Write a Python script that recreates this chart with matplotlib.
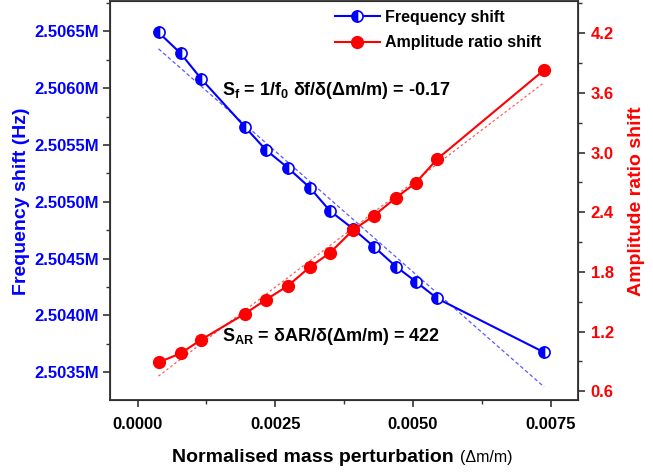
import numpy as np
import matplotlib
matplotlib.use("Agg")
import matplotlib.pyplot as plt
from matplotlib.ticker import MultipleLocator, FuncFormatter

plt.rcParams['font.family'] = ['Liberation Sans', 'DejaVu Sans']
plt.rcParams['font.weight'] = 'bold'
plt.rcParams['axes.labelweight'] = 'bold'
plt.rcParams['mathtext.default'] = 'regular'

# normalised mass perturbation (dm/m)
mass_pert = [0.00038, 0.00078, 0.00116, 0.00195, 0.00233, 0.00273, 0.00313,
             0.00349, 0.00391, 0.00429, 0.00469, 0.00505, 0.00544, 0.00738]
# resonance frequency (Hz)
freq = [2506491, 2506307, 2506079, 2505658, 2505456, 2505298, 2505123,
        2504921, 2504763, 2504605, 2504430, 2504298, 2504149, 2503675]
# amplitude ratio
amp_ratio = [0.89, 0.98, 1.12, 1.38, 1.52, 1.66, 1.85,
             1.99, 2.22, 2.365, 2.545, 2.695, 2.935, 3.83]

BLUE = '#0000ff'
RED = '#ff0000'

x = np.array(mass_pert)
f = np.array(freq)
a = np.array(amp_ratio)

fig = plt.figure(figsize=(6.53, 4.73), dpi=100)
ax = fig.add_axes([0.1685, 0.154, 0.717, 0.843])
ax2 = ax.twinx()

# linear fits
pf = np.polyfit(x, f, 1)
pa = np.polyfit(x, a, 1)
ax.plot(x[[0, -1]], np.polyval(pf, x[[0, -1]]), ls=(0, (3, 2)), lw=0.9,
        color='#5a5aff', zorder=1)
ax2.plot(x[[0, -1]], np.polyval(pa, x[[0, -1]]), ls=(0, (2, 2)), lw=0.9,
         color='#ff5a5a', zorder=1)

l1, = ax.plot(x, f, '-o', color=BLUE, lw=1.5, ms=8, mec=BLUE, mew=1.2,
              fillstyle='left', mfc=BLUE, markerfacecoloralt='white',
              label='Frequency shift', zorder=3)
l2, = ax2.plot(x, a, '-o', color=RED, lw=1.5, ms=8.5, mfc=RED, mec=RED,
               label='Amplitude ratio shift', zorder=3)

ax.set_xlim(-0.0005, 0.0080)
ax.set_ylim(2503254, 2506763)
ax2.set_ylim(0.51, 4.52)

ax.xaxis.set_major_locator(MultipleLocator(0.0025))
ax.xaxis.set_minor_locator(MultipleLocator(0.00125))
ax.xaxis.set_major_formatter(FuncFormatter(lambda v, p: f"{v:.4f}"))
ax.yaxis.set_major_locator(MultipleLocator(500))
ax.yaxis.set_minor_locator(MultipleLocator(250))
ax.yaxis.set_major_formatter(FuncFormatter(lambda v, p: f"{v/1e6:.4f}M"))
ax2.yaxis.set_major_locator(MultipleLocator(0.6))
ax2.yaxis.set_minor_locator(MultipleLocator(0.3))
ax2.yaxis.set_major_formatter(FuncFormatter(lambda v, p: f"{v:.1f}"))

for s in ax2.spines.values():
    s.set_linewidth(1.3)
    s.set_color('#333333')
ax.tick_params(axis='both', which='major', length=5, width=1.2, labelsize=12,
               color='#333333')
ax.tick_params(axis='both', which='minor', length=3, width=1.0, color='#333333')
ax.tick_params(axis='y', labelcolor=BLUE, pad=3)
ax.tick_params(axis='x', pad=7)
ax2.tick_params(axis='y', which='major', length=5, width=1.2, labelsize=12,
                labelcolor=RED, color='#333333', pad=4)
ax2.tick_params(axis='y', which='minor', length=3, width=1.0, color='#333333')

ax.set_ylabel('Frequency shift (Hz)', color=BLUE, fontsize=14, labelpad=3)
ax2.set_ylabel('Amplitude ratio shift', color=RED, fontsize=14, labelpad=10)
xl = ax.set_xlabel('Normalised mass perturbation ', fontsize=14)
ax.xaxis.set_label_coords(0.44, -0.122)
ax.annotate('(Δm/m)', xy=(1, 0.05), xycoords=xl, va='bottom', ha='left',
            fontsize=11.5, fontweight='normal')

ax.text(0.24, 0.765, r'$S_f$ = 1/$f_0$ δf/δ(Δm/m) = -0.17',
        transform=ax.transAxes, fontsize=13, fontweight='bold')
ax.text(0.24, 0.148, r'$S_{AR}$ = δAR/δ(Δm/m) = 422',
        transform=ax.transAxes, fontsize=13, fontweight='bold')

ax.legend([l1, l2], ['Frequency shift', 'Amplitude ratio shift'],
          loc='upper left', bbox_to_anchor=(0.45, 1.015), frameon=False,
          fontsize=11.5, handlelength=2.8, handletextpad=0.3, labelspacing=0.65)

fig.savefig('out.png', dpi=100)
